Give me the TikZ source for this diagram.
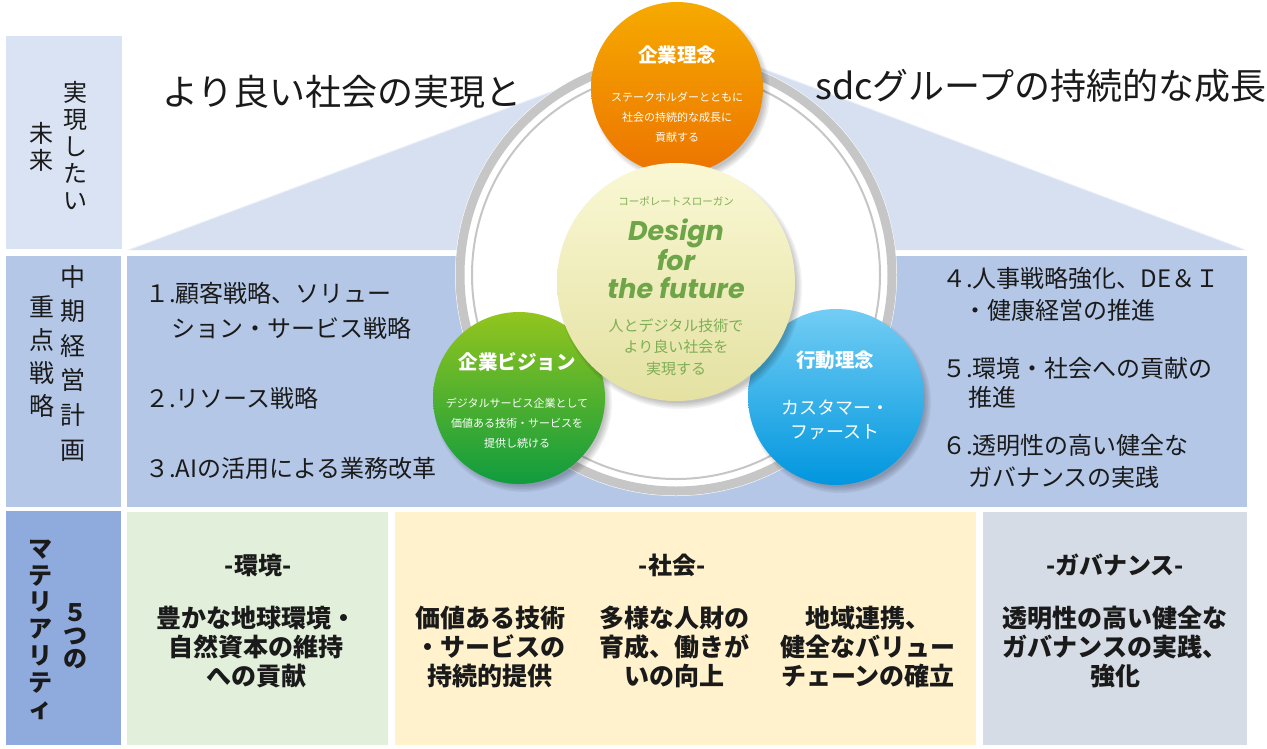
\documentclass[tikz,border=0pt]{standalone}
\usepackage{fontspec}
\setmainfont{Noto Sans CJK JP}
\newfontfamily\slogan{Poppins}
\definecolor{rowA}{HTML}{DAE3F3}
\definecolor{rowB}{HTML}{B4C7E7}
\definecolor{rowC}{HTML}{8FAADC}
\definecolor{roof}{HTML}{D6E0F1}
\definecolor{envbox}{HTML}{E2EFDA}
\definecolor{socbox}{HTML}{FFF2CC}
\definecolor{govbox}{HTML}{D6DCE5}
\definecolor{ringgray}{HTML}{C6C6C6}
\definecolor{txt}{HTML}{1A1A1A}
\definecolor{orL}{HTML}{F6AA00}
\definecolor{orD}{HTML}{EC7400}
\definecolor{yeL}{HTML}{FAF8D4}
\definecolor{yeD}{HTML}{E4E1A2}
\definecolor{grL}{HTML}{93C51E}
\definecolor{grD}{HTML}{0F9C3E}
\definecolor{blL}{HTML}{72CDF4}
\definecolor{blD}{HTML}{0096DE}
\definecolor{slg}{HTML}{6DA548}
\definecolor{slgt}{HTML}{7DAE55}
\newcommand\softshadow[3]{\foreach \k in {0,...,4}{\fill[black,opacity=0.05] (#1+4,#2+5) circle[radius={(#3+3-1.5*\k)*1pt}];}}
\begin{document}
\begin{tikzpicture}[x=1pt,y=-1pt,
  vlbl/.style={font=\fontsize{24}{27}\selectfont, align=center, inner sep=0, text=txt},
  item/.style={anchor=west, font=\fontsize{24}{28}\selectfont, inner sep=0, text=txt},
  mat/.style={font=\bfseries\fontsize{25}{29}\selectfont, align=center, inner sep=0, text=txt},
  mattitle/.style={font=\bfseries\fontsize{24}{28}\selectfont, inner sep=0, text=txt},
  ctitle/.style={font=\bfseries\fontsize{19.5}{22}\selectfont, text=white, inner sep=0},
  csmall/.style={font=\fontsize{11}{20}\selectfont, text=white, align=center, inner sep=0},
  bigcirc/.style={circle, inner sep=0, shading angle=45}
]
\useasboundingbox (0,0) rectangle (1267,748);
\fill[white] (0,0) rectangle (1267,748);

% label column
\fill[rowA] (6,36) rectangle (122,249);
\fill[rowB] (6,256) rectangle (121,507);
\fill[rowC] (6,511) rectangle (121,745);

% row 1 roof
\fill[roof] (127,250) -- (688,40) -- (1247,250) -- cycle;
\draw[white, opacity=0.5, line width=2pt] (127,250) -- (688,40) -- (1247,250);
% row 2 panel
\fill[rowB] (127,256) rectangle (1247,507);
% row 3 boxes
\fill[envbox] (127,512) rectangle (388,745);
\fill[socbox] (395,512) rectangle (976,745);
\fill[govbox] (983,512) rectangle (1247,745);

% vertical labels
\node[vlbl] (l1a) at (75,146) {実\\現\\し\\た\\い};
\node[vlbl] (l1b) at (42,147) {未\\来};
\node[vlbl, font=\fontsize{25}{34.6}\selectfont] (l2a) at (73,363) {中\\期\\経\\営\\計\\画};
\node[vlbl, font=\fontsize{25}{33}\selectfont] (l2b) at (42,357) {重\\点\\戦\\略};
\node[vlbl, font=\bfseries\fontsize{24}{23}\selectfont] (l3a) at (75,636) {５\\つ\\の};
\node[vlbl, font=\bfseries\fontsize{24}{26.7}\selectfont] (l3b) at (40,630) {マ\\テ\\リ\\ア\\リ\\テ\\ィ};

% headline texts
\node[inner sep=0, text=txt, font=\fontsize{36}{40}\selectfont] (headL) at (342,92) {より良い社会の実現と};
\node[inner sep=0, text=txt, font=\fontsize{36}{40}\selectfont] (headR) at (1041,86) {sdcグループの持続的な成長};

% row 2 items
\node[item] (i1a) at (145,293) {１.顧客戦略、ソリュー};
\node[item] (i1b) at (171,328) {ション・サービス戦略};
\node[item] (i2) at (145,398) {２.リソース戦略};
\node[item] (i3) at (145,468) {３.AIの活用による業務改革};
\node[item] (i4a) at (942,278) {４.人事戦略強化、DE＆Ｉ};
\node[item] (i4b) at (963,310) {・健康経営の推進};
\node[item] (i5a) at (942,368) {５.環境・社会への貢献の};
\node[item] (i5b) at (968,397) {推進};
\node[item] (i6a) at (942,445) {６.透明性の高い健全な};
\node[item] (i6b) at (968,477) {ガバナンスの実践};

% ring
\fill[white] (676,275) circle[radius=221pt];
\draw[ringgray, line width=9pt] (676,275) circle[radius=216pt];
\draw[ringgray, line width=2pt] (676,275) circle[radius=204pt];

% orange circle
\softshadow{677}{88}{86}
\node[bigcirc, minimum size=172pt, top color=orL, bottom color=orD] (philo) at (677,88) {};
\node[ctitle] (philoT) at (677,55) {企業理念};
\node[csmall] (philoS) at (677,117) {ステークホルダーとともに\\社会の持続的な成長に\\貢献する};

% green circle
\softshadow{519}{398}{86}
\node[bigcirc, minimum size=172pt, top color=grL, bottom color=grD] (vision) at (519,398) {};
\node[ctitle] (visionT) at (517,362) {企業ビジョン};
\node[csmall] (visionS) at (517,423) {デジタルサービス企業として\\価値ある技術・サービスを\\提供し続ける};

% blue circle
\softshadow{836}{397}{88}
\node[bigcirc, minimum size=176pt, top color=blL, bottom color=blD] (action) at (836,397) {};
\node[ctitle] (actionT) at (835,360) {行動理念};
\node[inner sep=0, text=white, font=\fontsize{18}{24}\selectfont, align=center] (actionS) at (835,420) {カスタマー・\\ファースト};

% yellow circle
\softshadow{676}{282}{119}
\node[bigcirc, minimum size=238pt, top color=yeL, bottom color=yeD] (slogan) at (676,282) {};
\node[inner sep=0, text=slgt, font=\fontsize{10.5}{12}\selectfont] (sloganT) at (676,201) {コーポレートスローガン};
\node[inner sep=0, text=slg, font=\slogan\bfseries\itshape\fontsize{27}{30}\selectfont] (d1) at (676,233) {Design};
\node[inner sep=0, text=slg, font=\slogan\bfseries\itshape\fontsize{27}{30}\selectfont] (d2) at (676,260) {for};
\node[inner sep=0, text=slg, font=\slogan\bfseries\itshape\fontsize{27}{30}\selectfont] (d3) at (676,288) {the future};
\node[inner sep=0, text=slgt, font=\fontsize{15}{21.5}\selectfont, align=center] (sloganS) at (676,347) {人とデジタル技術で\\より良い社会を\\実現する};

% row 3 texts
\node[mattitle] (envT) at (258,565) {-環境-};
\node[mat] (envB) at (256,647) {豊かな地球環境・\\自然資本の維持\\への貢献};
\node[mattitle] (socT) at (672,565) {-社会-};
\node[mat] (soc1) at (490,647) {価値ある技術\\・サービスの\\持続的提供};
\node[mat] (soc2) at (674,647) {多様な人財の\\育成、働きが\\いの向上};
\node[mat] (soc3) at (868,647) {地域連携、\\健全なバリュー\\チェーンの確立};
\node[mattitle] (govT) at (1115,565) {-ガバナンス-};
\node[mat] (govB) at (1115,647) {透明性の高い健全な\\ガバナンスの実践、\\強化};
\end{tikzpicture}
\end{document}
